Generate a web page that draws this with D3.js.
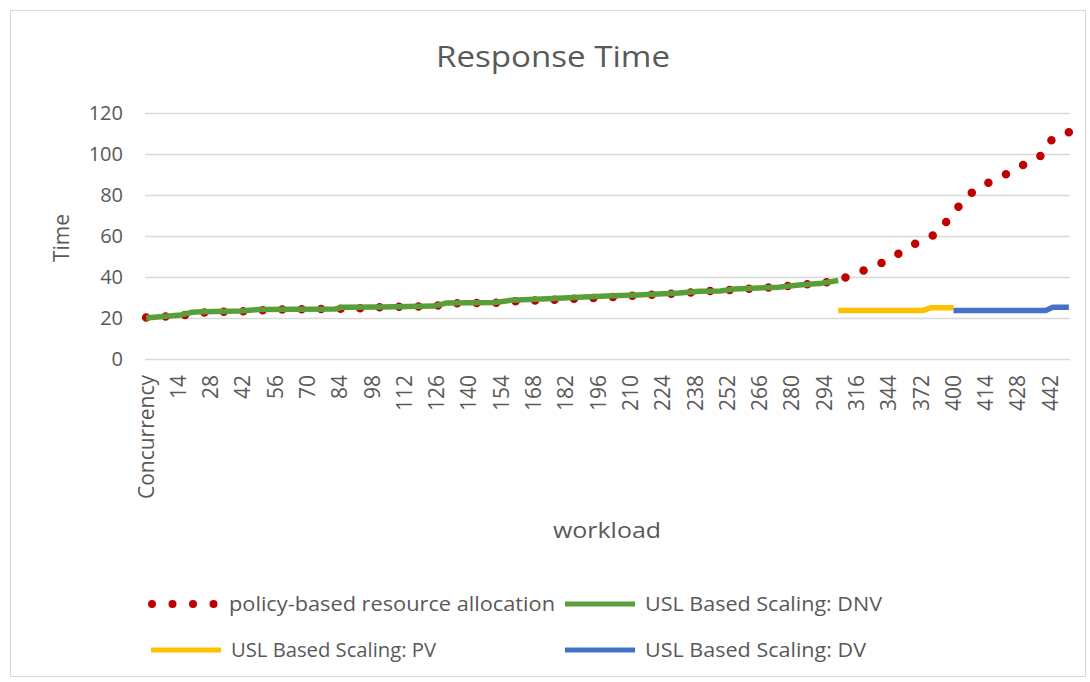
<!DOCTYPE html>
<html>
<head>
<meta charset="utf-8">
<script src="https://cdn.jsdelivr.net/npm/d3@7"></script>
<style>
  body { margin: 0; background: #fff; }
  text { font-family: "Open Sans", sans-serif; fill: #595959; }
</style>
</head>
<body>
<svg id="chart" width="1090" height="682"></svg>
<script>
// Workload categories: header cell, then 1..300, 302..400 (step 2), 401..450
const workloadSegments = [[1, 300, 1], [302, 400, 2], [401, 450, 1]];

const tickLabels = ["Concurrency", "14", "28", "42", "56", "70", "84", "98", "112", "126",
  "140", "154", "168", "182", "196", "210", "224", "238", "252", "266", "280", "294",
  "316", "344", "372", "400", "414", "428", "442"];

const yTicks = [0, 20, 40, 60, 80, 100, 120];

// [workload, response time]
const policyBased = [["Concurrency", 20.2], ["10", 20.8], ["18", 21.6], ["27", 22.9], ["44", 23.3],
  ["53", 24.0], ["90", 24.6], ["98", 25.2], ["116", 25.6], ["125", 25.8], ["133", 27.2],
  ["152", 27.4], ["160", 28.2], ["178", 29.0], ["196", 29.8], ["213", 31.0], ["231", 32.0],
  ["240", 32.8], ["257", 34.0], ["275", 35.2], ["284", 36.3], ["293", 37.0], ["300", 38.4],
  ["318", 42.1], ["332", 45.9], ["342", 47.5], ["356", 52.8], ["370", 57.2], ["386", 61.3],
  ["396", 68.6], ["403", 75.4], ["409", 82.4], ["416", 86.5], ["423", 90.2], ["431", 95.1],
  ["438", 99.2], ["443", 107.7], ["450", 110.6]];

const uslDNV = [["Concurrency", 20.0], ["6", 20.6], ["15", 21.5], ["20", 22.8], ["24", 23.1],
  ["41", 23.4], ["49", 24.2], ["82", 24.4], ["85", 25.2], ["102", 25.4], ["125", 25.8],
  ["130", 27.3], ["151", 27.6], ["158", 28.6], ["174", 29.4], ["190", 30.2], ["202", 30.8],
  ["213", 31.2], ["231", 32.2], ["240", 33.0], ["249", 33.2], ["255", 34.2], ["274", 35.0],
  ["283", 36.1], ["293", 37.0], ["300", 38.3]];

const uslPV = [["300", 23.7], ["374", 23.7], ["380", 25.0], ["400", 25.0]];
const uslDV = [["400", 23.7], ["440", 23.7], ["443", 25.2], ["450", 25.2]];

const seriesNames = ["policy-based resource allocation", "USL Based Scaling: DNV",
  "USL Based Scaling: PV", "USL Based Scaling: DV"];
const seriesColors = ["#c00000", "#5a9e3a", "#ffc000", "#4472c4"];

const categories = ["Concurrency"];
workloadSegments.forEach(([a, b, s]) => d3.range(a, b + 1, s).forEach(v => categories.push(String(v))));

const svg = d3.select("#chart");
const plot = { left: 145, right: 1070, top: 113, bottom: 359 };

// chart frame
svg.append("rect")
  .attr("x", 10.5).attr("y", 10.5).attr("width", 1075).attr("height", 666)
  .attr("fill", "#fff").attr("stroke", "#d9d9d9").attr("stroke-width", 1);

const x = d3.scaleBand().domain(categories).range([plot.left, plot.right]);
const cx = d => x(d) + x.bandwidth() / 2;
const y = d3.scaleLinear().domain([0, 120]).range([plot.bottom, plot.top]);

// gridlines + y labels
const yAxis = svg.append("g")
  .attr("transform", `translate(${plot.left},0)`)
  .call(d3.axisLeft(y).tickValues(yTicks).tickSize(-(plot.right - plot.left)).tickPadding(22));
yAxis.select(".domain").remove();
yAxis.selectAll(".tick line").attr("stroke", "#d9d9d9").attr("stroke-width", 1.5);
yAxis.selectAll(".tick text").attr("font-size", 20).attr("fill", "#595959")
  .style("font-family", "'Open Sans', sans-serif");

// x labels, rotated
const xAxis = svg.append("g")
  .attr("transform", `translate(0,${plot.bottom})`)
  .call(d3.axisBottom(x).tickValues(tickLabels).tickSize(0));
xAxis.select(".domain").remove();
xAxis.selectAll(".tick text")
  .attr("font-size", 21).attr("fill", "#595959")
  .style("font-family", "'Open Sans', sans-serif")
  .attr("text-anchor", "end")
  .attr("transform", "rotate(-90)")
  .attr("x", -16).attr("y", 0).attr("dy", "0.35em");

// series
const line = d3.line().x(d => cx(d[0])).y(d => y(d[1]));

// round-dot line: spacing evened out so a dot falls on both ends of the path
const redPath = svg.append("path").datum(policyBased)
  .attr("d", line).attr("fill", "none")
  .attr("stroke", seriesColors[0]).attr("stroke-width", 8.5)
  .attr("stroke-linecap", "round");
const redLen = redPath.node().getTotalLength();
const gap = redLen / Math.round(redLen / 19.6) - 0.001;
redPath.attr("stroke-dasharray", `0 ${gap}`);

[[uslDNV, 1], [uslPV, 2], [uslDV, 3]].forEach(([data, i]) => {
  svg.append("path").datum(data)
    .attr("d", line).attr("fill", "none")
    .attr("stroke", seriesColors[i]).attr("stroke-width", 5.5)
    .attr("stroke-linejoin", "round");
});

// title and axis titles
svg.append("text").attr("x", 553).attr("y", 67).attr("text-anchor", "middle")
  .attr("font-size", 29).attr("textLength", 234).attr("lengthAdjust", "spacingAndGlyphs")
  .text("Response Time");
svg.append("text").attr("transform", "translate(69,238) rotate(-90)")
  .attr("text-anchor", "middle").attr("font-size", 21).text("Time");
svg.append("text").attr("x", 607).attr("y", 538).attr("text-anchor", "middle")
  .attr("font-size", 22).attr("textLength", 108).attr("lengthAdjust", "spacingAndGlyphs")
  .text("workload");

// legend
const legendItems = [
  { name: seriesNames[0], color: seriesColors[0], dotted: true, x: 152, y: 604, w: 326 },
  { name: seriesNames[1], color: seriesColors[1], dotted: false, x: 565, y: 604, w: 237 },
  { name: seriesNames[2], color: seriesColors[2], dotted: false, x: 151, y: 650, w: 205 },
  { name: seriesNames[3], color: seriesColors[3], dotted: false, x: 565, y: 650, w: 221 }
];
const legend = svg.append("g");
legendItems.forEach(it => {
  const g = legend.append("g").attr("transform", `translate(${it.x},${it.y})`);
  if (it.dotted) {
    g.append("line").attr("x1", 0).attr("x2", 62).attr("y1", 0).attr("y2", 0)
      .attr("stroke", it.color).attr("stroke-width", 8)
      .attr("stroke-linecap", "round").attr("stroke-dasharray", "0 20.5");
  } else {
    g.append("line").attr("x1", 0).attr("x2", 70).attr("y1", 0).attr("y2", 0)
      .attr("stroke", it.color).attr("stroke-width", 5);
  }
  g.append("text").attr("x", it.dotted ? 77 : 80).attr("y", 0).attr("dy", "0.35em")
    .attr("font-size", 20).attr("textLength", it.w).attr("lengthAdjust", "spacingAndGlyphs")
    .text(it.name);
});
</script>
</body>
</html>
